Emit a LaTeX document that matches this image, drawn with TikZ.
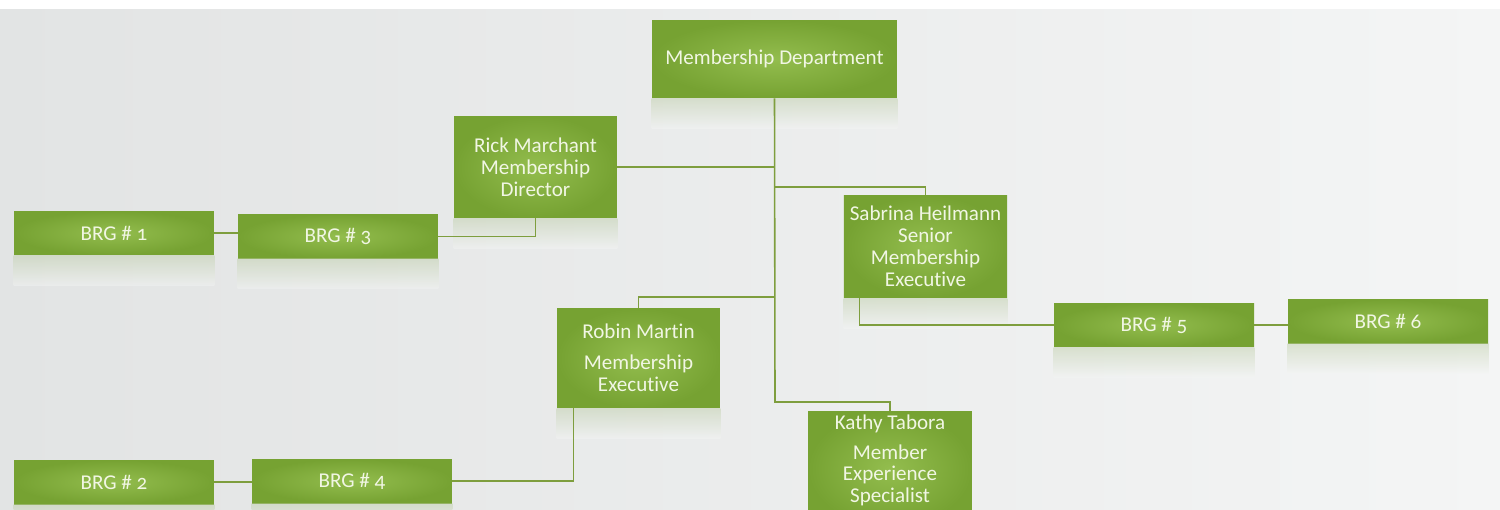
\documentclass[tikz,border=0pt]{standalone}
\usepackage{fontspec}
\setmainfont{Carlito}[Numbers=OldStyle,Ligatures=NoCommon]
\usetikzlibrary{positioning}
\definecolor{boxlight}{HTML}{93BD4E}
\definecolor{boxdark}{HTML}{76A232}
\definecolor{linegreen}{HTML}{7E9E3E}
\definecolor{txt}{HTML}{F1F6E4}
\definecolor{bgleft}{HTML}{E2E4E4}
\definecolor{bgright}{HTML}{F4F5F5}
\tikzset{
    %green box of the chart
    person/.style={
           rectangle,
           inner color=boxlight,
           outer color=boxdark,
           text=txt,
           align=center,
           font=\fontsize{12}{12.6}\selectfont,
           minimum width=3.26cm,
           minimum height=2.04cm},
    %smaller box for the groups
    brg/.style={
           person,
           minimum width=4cm,
           minimum height=0.88cm},
    % connector line
    link/.style={
           draw=linegreen,
           line width=0.9pt}
}
\begin{document}
\begin{tikzpicture}[x=0.02cm,y=-0.02cm]

\fill[left color=bgleft, right color=bgright] (0,0) rectangle (1500,510);
\fill[white] (0,0) rectangle (1500,9);
\useasboundingbox (0,0) rectangle (1500,510);
\clip (0,0) rectangle (1500,510);

\node[person, minimum width=4.9cm, minimum height=1.56cm] (dept) at (774.5,59) {Membership Department};
\node[person] (rick) at (535.5,167) {Rick Marchant\\Membership\\Director};
\node[person, minimum height=2.06cm] (sabrina) at (925.5,246.5) {Sabrina Heilmann\\Senior\\Membership\\Executive};
\node[person, minimum height=2cm] (robin) at (638.5,358) {Robin Martin\\[5pt]Membership\\Executive};
\node[person, minimum width=3.28cm, minimum height=0cm, inner ysep=0.08cm, anchor=north,
      text depth=0.4cm, font=\fontsize{12}{12}\selectfont] (kathy) at (890,411) {Kathy Tabora\\[5pt]Member\\Experience\\Specialist};

\node[brg] (brg1) at (114,233) {BRG \# 1};
\node[brg] (brg3) at (338,236.5) {BRG \# 3};
\node[brg] (brg2) at (114,482) {BRG \# 2};
\node[brg] (brg4) at (352,481) {BRG \# 4};
\node[brg] (brg5) at (1154,325) {BRG \# 5};
\node[brg] (brg6) at (1388,321.5) {BRG \# 6};

% faded reflections under the boxes
\foreach \n in {dept,rick,sabrina,robin,brg1,brg2,brg3,brg4,brg5,brg6}
  \shade[top color=boxdark!35!bgleft, bottom color=bgright, opacity=0.45]
    (\n.south west) rectangle ([yshift=-0.6cm]\n.south east);

\coordinate (jrick) at (775,167);
\coordinate (jsab) at (775,187);
\coordinate (jrob) at (775,297);
\coordinate (jkat) at (775,402);

\draw[link] (dept.south) -- (jkat) -| (kathy.north);
\draw[link] (rick.east) -- (jrick);
\draw[link] (jsab) -| (sabrina.north);
\draw[link] (jrob) -| (robin.north);

\draw[link] (rick.south) |- (brg3.east);
\draw[link] (brg1.east) -- (brg1.east -| brg3.west);
\draw[link] ([xshift=0.34cm]robin.south west) |- (brg4.east);
\draw[link] (brg2.east) -- (brg2.east -| brg4.west);
\draw[link] ([xshift=0.32cm]sabrina.south west) |- (brg5.west);
\draw[link] (brg5.east) -- (brg5.east -| brg6.west);

\end{tikzpicture}
\end{document}
